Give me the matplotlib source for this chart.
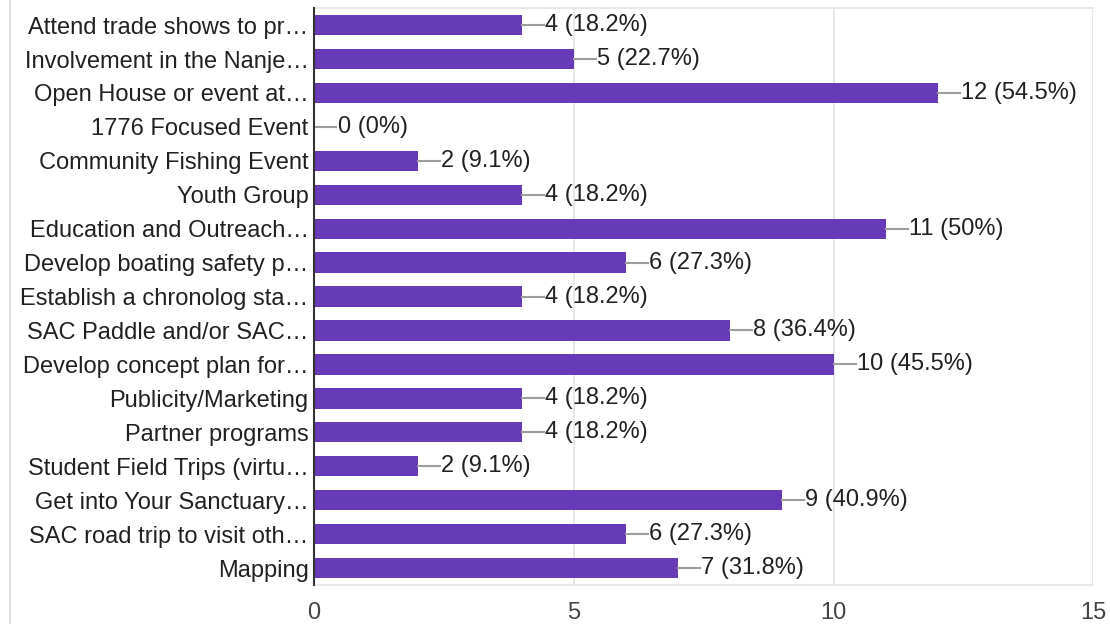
import matplotlib.pyplot as plt
from matplotlib.lines import Line2D

plt.rcParams['font.family'] = ['Liberation Sans', 'DejaVu Sans']

labels = ['Attend trade shows to pr…', 'Involvement in the Nanje…', 'Open House or event at…',
          '1776 Focused Event', 'Community Fishing Event', 'Youth Group',
          'Education and Outreach…', 'Develop boating safety p…', 'Establish a chronolog sta…',
          'SAC Paddle and/or SAC…', 'Develop concept plan for…', 'Publicity/Marketing',
          'Partner programs', 'Student Field Trips (virtu…', 'Get into Your Sanctuary…',
          'SAC road trip to visit oth…', 'Mapping']
counts = [4, 5, 12, 0, 2, 4, 11, 6, 4, 8, 10, 4, 4, 2, 9, 6, 7]
pcts = ['18.2%', '22.7%', '54.5%', '0%', '9.1%', '18.2%', '50%', '27.3%', '18.2%',
        '36.4%', '45.5%', '18.2%', '18.2%', '9.1%', '40.9%', '27.3%', '31.8%']
xticks = [0, 5, 10, 15]

fig = plt.figure(figsize=(11.1, 6.24), dpi=100)
ax = fig.add_axes([0.283, 0.0625, 0.702, 0.9245])

ypos = list(range(len(labels)))
ax.barh(ypos, counts, height=0.6, color='#673ab7', zorder=3)

for y, c, p in zip(ypos, counts, pcts):
    ax.plot([c, c + 0.43], [y, y], color='#9e9e9e', lw=1.5, zorder=3, clip_on=False)
    ax.text(c + 0.45, y, '{} ({})'.format(c, p), va='center', ha='left',
            fontsize=13, color='#212121')

ax.set_xlim(0, 15)
ax.set_ylim(16.5, -0.5)
ax.set_xticks(xticks)
ax.set_xticklabels([str(t) for t in xticks], fontsize=13, color='#444444')
ax.set_yticks(ypos)
ax.set_yticklabels(labels, fontsize=13, color='#212121')
ax.tick_params(axis='both', length=0)
ax.tick_params(axis='x', pad=12)
ax.tick_params(axis='y', pad=4)
for t in ax.get_xticklabels() + ax.get_yticklabels():
    t.set_fontsize(17)
for t in ax.texts:
    t.set_fontsize(17)
ax.grid(axis='x', color='#e6e6e6', lw=1.3, zorder=0)

for s in ['top', 'bottom', 'right']:
    ax.spines[s].set_color('#e6e6e6')
    ax.spines[s].set_linewidth(1.3)
ax.spines['right'].set_visible(False)
ax.spines['left'].set_color('#333333')
ax.spines['left'].set_linewidth(1.5)
ax.spines['left'].set_zorder(4)

fig.add_artist(Line2D([10 / 1110, 10 / 1110], [0, 1], color='#dadce0', lw=1.2))

fig.savefig('out.png', dpi=100)
